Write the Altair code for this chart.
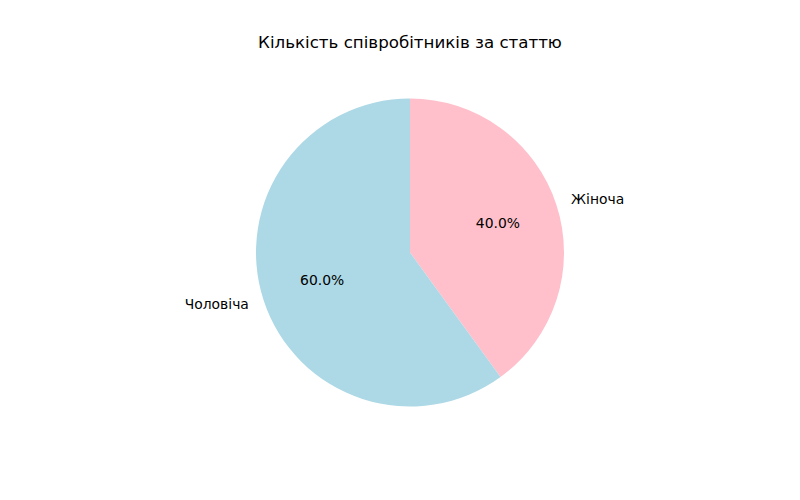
import altair as alt
import pandas as pd

categories = ["Жіноча", "Чоловіча"]
values = [40, 60]
order = [1, 2]
colors = ["#FFC0CB", "#ADD8E6"]

df = pd.DataFrame({"cat": categories, "value": values, "order": order})

TOP = 60
CX, CY = 410, 252.5 - TOP
R = 154
FONT = "DejaVu Sans"
LABEL_SIZE = 13.9
TITLE_SIZE = 16.67

base = alt.Chart(df).transform_joinaggregate(total="sum(value)").transform_calculate(
    pct="format(datum.value / datum.total * 100, '.1f') + '%'",
    rlabel="datum.cat == 'Жіноча' ? datum.cat : ''",
    llabel="datum.cat == 'Чоловіча' ? datum.cat : ''",
).encode(
    theta=alt.Theta("value:Q", stack=True),
    order=alt.Order("order:Q"),
    x=alt.value(CX),
    y=alt.value(CY),
)

arcs = base.mark_arc(radius=R).encode(
    color=alt.Color("cat:N", scale=alt.Scale(domain=categories, range=colors), legend=None)
)

pct_text = base.mark_text(radius=R * 0.6, font=FONT, fontSize=LABEL_SIZE, color="black", baseline="middle").encode(
    text="pct:N"
)
rtext = base.mark_text(radius=R * 1.1, font=FONT, fontSize=LABEL_SIZE, color="black", align="left", baseline="middle").encode(
    text="rlabel:N"
)
ltext = base.mark_text(radius=R * 1.1, font=FONT, fontSize=LABEL_SIZE, color="black", align="right", baseline="middle").encode(
    text="llabel:N"
)

chart = alt.layer(arcs, pct_text, rtext, ltext).properties(
    width=800,
    height=440 - TOP,
    title=alt.TitleParams(
        "Кількість співробітників за статтю",
        font=FONT, fontSize=TITLE_SIZE, fontWeight="normal", color="black",
        anchor="middle", dx=10, offset=8,
    ),
    autosize=alt.AutoSizeParams(type="none"),
    padding={"left": 0, "right": 0, "top": TOP, "bottom": 0},
).configure_view(stroke=None)

chart.save("out.html", embed_options={"renderer": "svg", "actions": False})
